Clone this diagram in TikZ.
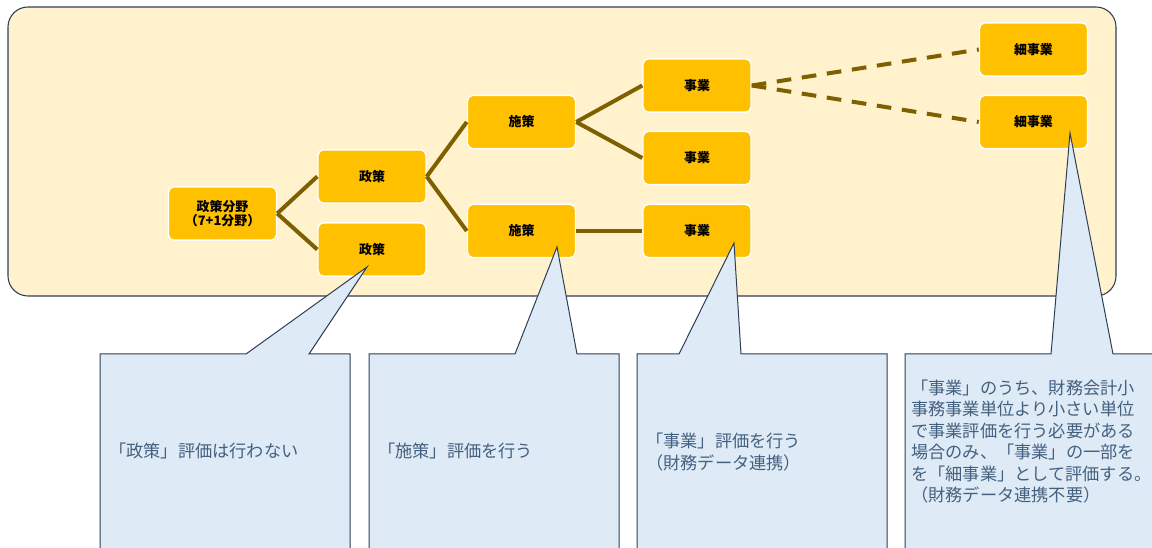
\documentclass[tikz,border=0pt]{standalone}
\usepackage{fontspec}
\newfontfamily\jp{Noto Sans CJK JP}
\definecolor{contfill}{HTML}{FFF2CC}
\definecolor{navy}{HTML}{2F3E57}
\definecolor{orng}{HTML}{FFC000}
\definecolor{olive}{HTML}{7F6000}
\definecolor{callfill}{HTML}{DEEBF7}
\definecolor{calltext}{HTML}{44607F}
\begin{document}
\begin{tikzpicture}[x=0.75pt,y=-0.75pt,
  box/.style={draw=white, line width=1.1pt, fill=orng, rounded corners=4pt,
    minimum width=81pt, minimum height=40pt, inner sep=0pt, align=center,
    text=black, font=\jp\bfseries\fontsize{9.7}{9}\selectfont},
  link/.style={draw=olive, line width=3pt},
  dlink/.style={link, dash pattern=on 11pt off 8pt},
  callout/.style={fill=callfill, draw=navy, line width=0.75pt},
  ctext/.style={font=\jp\fontsize{12.9}{16.1}\selectfont, text=calltext,
    inner sep=0pt, align=left}
]
\path[use as bounding box] (0,0) rectangle (1152,548);
\clip (0,0) rectangle (1152,548);
% container
\draw[fill=contfill, draw=navy, line width=0.8pt, rounded corners=15pt]
  (8,7) rectangle (1116,296);
% nodes
\node[box] (n0) at (222.5,213.5) {政策分野\\（7+1分野）};
\node[box] (p1) at (372,176.5) {政策};
\node[box] (p2) at (372,249.5) {政策};
\node[box] (m1) at (521.5,122) {施策};
\node[box] (m2) at (521.5,231) {施策};
\node[box] (j1) at (697,85.5) {事業};
\node[box] (j2) at (697,158) {事業};
\node[box] (j3) at (697,231) {事業};
\node[box] (s1) at (1033.5,49.5) {細事業};
\node[box] (s2) at (1033.5,122) {細事業};
% connectors
\draw[link] (n0.east) -- (p1.west);
\draw[link] (n0.east) -- (p2.west);
\draw[link] (p1.east) -- (m1.west);
\draw[link] (p1.east) -- (m2.west);
\draw[link] (m1.east) -- (j1.west);
\draw[link] (m1.east) -- (j2.west);
\draw[link] (m2.east) -- (j3.west);
\draw[dlink] (j1.east) -- (s1.west);
\draw[dlink] (j1.east) -- (s2.west);
% callouts
\draw[callout] (100,570) -- (100,354) -- (246,354) -- (367,267) -- (309,354)
  -- (350,354) -- (350,570) -- cycle;
\draw[callout] (369,570) -- (369,354) -- (515,354) -- (557,247) -- (577,354)
  -- (619,354) -- (619,570) -- cycle;
\draw[callout] (637,570) -- (637,354) -- (679,354) -- (734,243) -- (741,354)
  -- (887,354) -- (887,570) -- cycle;
\draw[callout] (905,570) -- (905,354) -- (1051,354) -- (1070,133) -- (1113,354)
  -- (1180,354) -- (1180,570) -- cycle;
% callout texts
\node[ctext, anchor=west] (t1) at (109,451) {「政策」評価は行わない};
\node[ctext, anchor=west] (t2) at (378,451) {「施策」評価を行う};
\node[ctext, anchor=west] (t3) at (646,452) {「事業」評価を行う\\（財務データ連携）};
\node[ctext, anchor=west] (t4) at (911,441.5) {「事業」のうち、財務会計小\\事務事業単位より小さい単位\\で事業評価を行う必要がある\\場合のみ、「事業」の一部を\\を「細事業」として評価する。\\（財務データ連携不要）};
\end{tikzpicture}
\end{document}
